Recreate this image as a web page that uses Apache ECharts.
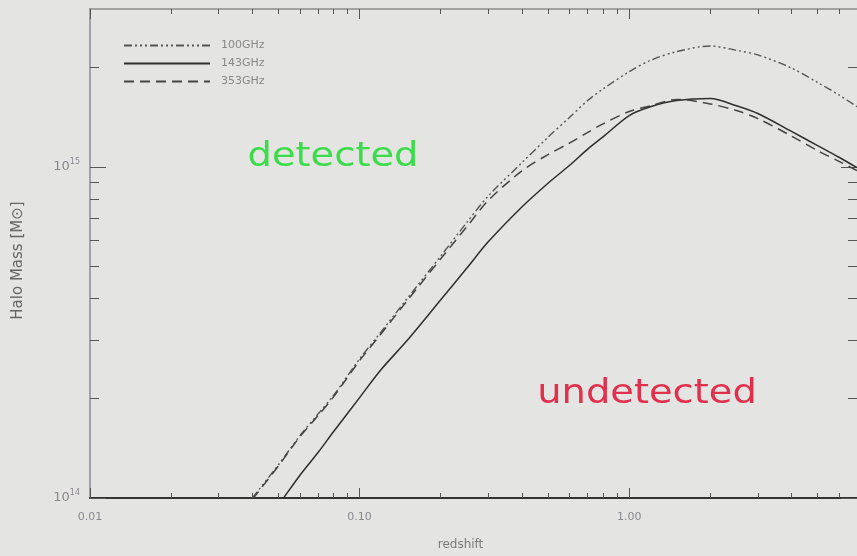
<!DOCTYPE html>
<html>
<head>
<meta charset="utf-8">
<script src="https://cdn.jsdelivr.net/npm/echarts@6/dist/echarts.min.js"></script>
<style>
  html, body { margin: 0; padding: 0; background: #e4e4e2; }
  #chart { width: 857px; height: 556px; }
</style>
</head>
<body>
<div id="chart"></div>
<script>
// Limiting halo mass versus redshift for three observing frequencies
const redshift = [0.04, 0.05, 0.06, 0.07, 0.08, 0.1, 0.12, 0.15, 0.2, 0.25, 0.3, 0.4, 0.5, 0.6, 0.7, 0.8, 1.0, 1.2, 1.5, 2, 2.5, 3, 4, 5, 6, 7];
const mass100 = [1.0e14, 1.26e14, 1.54e14, 1.79e14, 2.04e14, 2.63e14, 3.17e14, 4.0e14, 5.38e14, 6.8e14, 8.17e14, 1.03e15, 1.23e15, 1.41e15, 1.585e15, 1.72e15, 1.94e15, 2.10e15, 2.23e15, 2.32e15, 2.25e15, 2.18e15, 1.99e15, 1.80e15, 1.65e15, 1.52e15];
const mass143 = [0.76e14, 0.953e14, 1.17e14, 1.37e14, 1.585e14, 2.01e14, 2.44e14, 2.99e14, 3.97e14, 4.95e14, 5.94e14, 7.57e14, 8.93e14, 1.01e15, 1.13e15, 1.233e15, 1.43e15, 1.52e15, 1.587e15, 1.61e15, 1.53e15, 1.45e15, 1.28e15, 1.16e15, 1.07e15, 0.995e15];
const mass353 = [0.99e14, 1.25e14, 1.53e14, 1.77e14, 2.02e14, 2.6e14, 3.13e14, 3.94e14, 5.28e14, 6.6e14, 7.92e14, 9.73e14, 1.09e15, 1.18e15, 1.27e15, 1.35e15, 1.47e15, 1.53e15, 1.6e15, 1.55e15, 1.48e15, 1.40e15, 1.24e15, 1.12e15, 1.04e15, 0.975e15];

const seriesNames = ['100GHz', '143GHz', '353GHz'];

// Axis ranges and tick positions
const xRange = [0.01, 7];
const yRange = [1e14, 3e15];
const xMajorTicks = [0.01, 0.1, 1];
const xMinorTicks = [0.02, 0.03, 0.04, 0.05, 0.06, 0.07, 0.08, 0.09, 0.2, 0.3, 0.4, 0.5, 0.6, 0.7, 0.8, 0.9, 2, 3, 4, 5, 6, 7];
const yMajorTicks = [1e14, 1e15];
const yMinorTicks = [2e14, 3e14, 4e14, 5e14, 6e14, 7e14, 8e14, 9e14, 2e15, 3e15];

const regionLabels = ['detected', 'undetected'];

const pair = (ys) => redshift.map((z, i) => [z, ys[i]]);

const chart = echarts.init(document.getElementById('chart'), null, { renderer: 'canvas' });

const labelFont = 'DejaVu Sans, sans-serif';
const labelColor = '#8a8790';

function xAxisDef(position, ticks, tickLen, opts) {
  return Object.assign({
    type: 'log', logBase: 10, position: position,
    min: xRange[0], max: xRange[1],
    axisLine: { show: false },
    axisTick: { show: true, inside: true, length: tickLen, customValues: ticks,
      lineStyle: { color: '#555', width: 1 } },
    axisLabel: { show: false },
    splitLine: { show: false },
    minorTick: { show: false }
  }, opts || {});
}
function yAxisDef(position, ticks, tickLen, opts) {
  return Object.assign({
    type: 'log', logBase: 10, position: position,
    min: yRange[0], max: yRange[1],
    axisLine: { show: false },
    axisTick: { show: true, inside: true, length: tickLen, customValues: ticks,
      lineStyle: { color: '#555', width: 1 } },
    axisLabel: { show: false },
    splitLine: { show: false },
    minorTick: { show: false }
  }, opts || {});
}

const option = {
  backgroundColor: '#e4e4e2',
  animation: false,
  grid: { left: 90, right: -1, top: 9, bottom: 48, containLabel: false },
  legend: {
    orient: 'vertical',
    left: 118, top: 35,
    itemWidth: 86, itemHeight: 12, itemGap: 7,
    data: seriesNames,
    itemStyle: { opacity: 0 },
    textStyle: { color: '#888', fontSize: 11, fontFamily: labelFont, padding: [0, 0, 0, 6] },
    selectedMode: false
  },
  xAxis: [
    xAxisDef('bottom', xMajorTicks, 10, {
      name: 'redshift', nameLocation: 'middle', nameGap: 41,
      nameTextStyle: { color: '#7a7a7a', fontSize: 12, fontFamily: labelFont, padding: [0, 26, 0, 0] },
      axisLine: { show: true, lineStyle: { color: '#333', width: 2 } },
      axisLabel: { show: true, customValues: xMajorTicks, margin: 14,
        color: labelColor, fontSize: 11, fontFamily: labelFont,
        formatter: (v) => Number(v).toFixed(2) }
    }),
    xAxisDef('bottom', xMinorTicks, 5),
    xAxisDef('top', xMajorTicks, 10, {
      axisLine: { show: true, lineStyle: { color: '#8a8a8a', width: 1.5 } }
    }),
    xAxisDef('top', xMinorTicks, 5)
  ],
  yAxis: [
    yAxisDef('left', yMajorTicks, 16, {
      name: 'Halo Mass [M\u2299]', nameLocation: 'middle', nameGap: 64,
      nameTextStyle: { color: '#666', fontSize: 15, fontFamily: labelFont, padding: [0, 14, 0, 0] },
      axisLine: { show: true, lineStyle: { color: '#8a8898', width: 1.5 } },
      axisLabel: { show: true, customValues: yMajorTicks, margin: 10,
        color: labelColor, fontFamily: labelFont,
        formatter: (v) => '{b|10}{s|' + Math.round(Math.log10(v)) + '}',
        rich: {
          b: { fontSize: 13, color: labelColor, fontFamily: labelFont },
          s: { fontSize: 8, color: labelColor, fontFamily: labelFont, padding: [0, 0, 10, 0] }
        } }
    }),
    yAxisDef('left', yMinorTicks, 9),
    yAxisDef('right', yMajorTicks, 16),
    yAxisDef('right', yMinorTicks, 9)
  ],
  series: [
    {
      name: seriesNames[0], type: 'line', data: pair(mass100),
      xAxisIndex: 0, yAxisIndex: 0, symbol: 'none', smooth: 0.3,
      lineStyle: { color: '#555', width: 1.4, type: [8, 3, 2, 3, 2, 3, 2, 3] },
      itemStyle: { color: '#555' }
    },
    {
      name: seriesNames[1], type: 'line', data: pair(mass143),
      xAxisIndex: 0, yAxisIndex: 0, symbol: 'none', smooth: 0.3,
      lineStyle: { color: '#2e2e2e', width: 1.5, type: 'solid' },
      itemStyle: { color: '#2e2e2e' }
    },
    {
      name: seriesNames[2], type: 'line', data: pair(mass353),
      xAxisIndex: 0, yAxisIndex: 0, symbol: 'none', smooth: 0.3,
      lineStyle: { color: '#444', width: 1.5, type: [10, 6] },
      itemStyle: { color: '#444' }
    }
  ],
  graphic: [
    {
      type: 'text', x: 333, y: 157, scaleX: 1.13,
      style: { text: regionLabels[0], fill: '#3bdc4a', font: '34px DejaVu Sans',
        textAlign: 'center', textVerticalAlign: 'middle',
        shadowBlur: 3, shadowColor: 'rgba(59,220,74,0.6)' }
    },
    {
      type: 'text', x: 647, y: 394, scaleX: 1.13,
      style: { text: regionLabels[1], fill: '#e2304c', font: '34px DejaVu Sans',
        textAlign: 'center', textVerticalAlign: 'middle',
        shadowBlur: 3, shadowColor: 'rgba(226,48,76,0.6)' }
    }
  ]
};

chart.setOption(option);
</script>
</body>
</html>
